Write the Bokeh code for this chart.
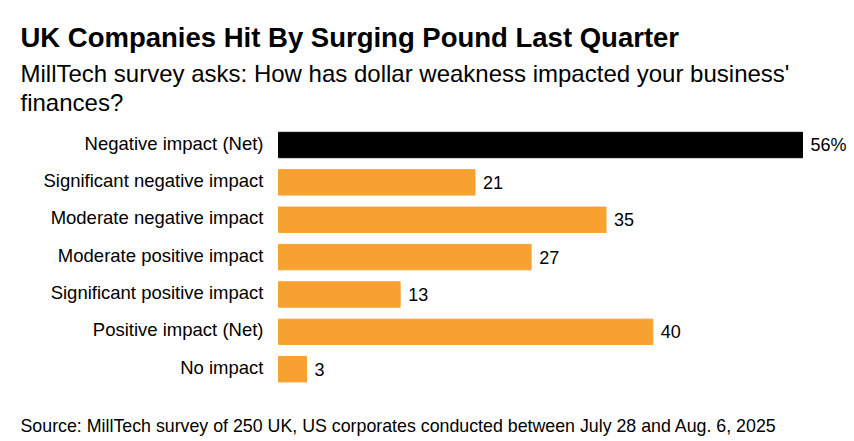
from bokeh.plotting import figure
from bokeh.models import Range1d, ColumnDataSource
from bokeh.embed import file_html
from bokeh.resources import INLINE
from bokeh.core.properties import value

categories = [
    "Negative impact (Net)",
    "Significant negative impact",
    "Moderate negative impact",
    "Moderate positive impact",
    "Significant positive impact",
    "Positive impact (Net)",
    "No impact",
]
values = [56, 21, 35, 27, 13, 40, 3]
value_labels = ["56%", "21", "35", "27", "13", "40", "3"]
bar_colors = ["#000000", "#F7A131", "#F7A131", "#F7A131", "#F7A131", "#F7A131", "#F7A131"]

title_text = "UK Companies Hit By Surging Pound Last Quarter"
subtitle_lines = ["MillTech survey asks: How has dollar weakness impacted your business'", "finances?"]
source_text = "Source: MillTech survey of 250 UK, US corporates conducted between July 28 and Aug. 6, 2025"

FONT = "Liberation Sans"
W, H = 854, 441
BAR_LEFT_PX = 278        # pixel where value 0 sits
PX_PER_UNIT = 9.357      # horizontal pixels per percentage point
ROW0_PX = 144.5          # pixel centre of first row
ROW_PX = 37.37           # pixels between rows

def px_x(px):
    return (px - BAR_LEFT_PX) / PX_PER_UNIT

def px_y(py):
    return (py - ROW0_PX) / ROW_PX

rows = list(range(len(categories)))
src = ColumnDataSource(dict(row=rows, cat=categories, val=values, lab=value_labels,
                            col=bar_colors, zero=[0] * len(values)))

p = figure(
    width=W, height=H,
    x_range=Range1d(px_x(0), px_x(W)),
    y_range=Range1d(px_y(H), px_y(0)),
    x_axis_location=None, y_axis_location=None,
    output_backend="svg", toolbar_location=None,
    min_border=0,
)
p.outline_line_color = None
p.grid.visible = False
p.background_fill_color = "white"
p.border_fill_color = "white"

p.hbar(y="row", right="val", left=0, height=0.68, color="col", source=src)
p.text(x="val", y="row", text="lab", source=src, x_offset=8,
       text_baseline="middle", text_align="left",
       text_font=value(FONT), text_font_size="18px", text_color="#000000")
p.text(x="zero", y="row", text="cat", source=src, x_offset=-15, y_offset=-2,
       text_baseline="middle", text_align="right",
       text_font=value(FONT), text_font_size="18.5px", text_color="#000000")

def txt(text, py, size, style="normal"):
    p.text(x=[px_x(20)], y=[px_y(py)], text=[text],
           text_font=value(FONT), text_font_size=size, text_font_style=style,
           text_color="#000000", text_baseline="alphabetic", text_align="left")

txt(title_text, 37, "27.5px", "bold")
txt(subtitle_lines[0], 73, "24px")
txt(subtitle_lines[1], 102, "24px")
txt(source_text, 425, "17.8px")

open("out.html", "w").write(file_html(p, INLINE))
